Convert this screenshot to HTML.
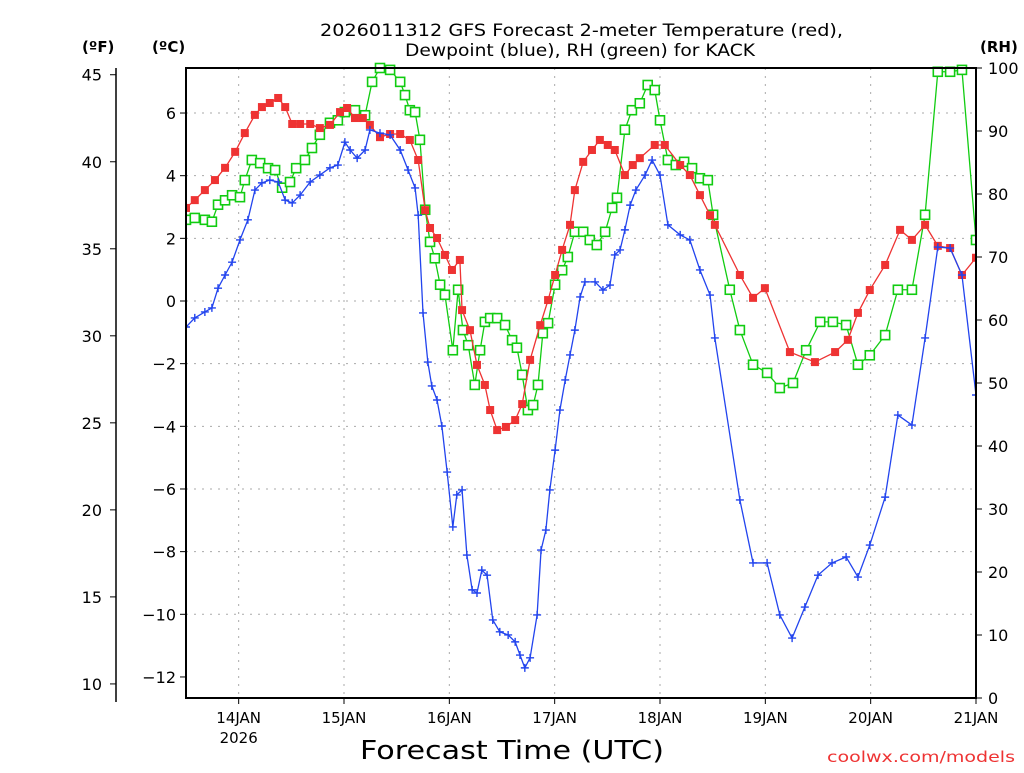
<!DOCTYPE html>
<html><head><meta charset="utf-8"><style>
body{margin:0;background:#fff;width:1024px;height:768px;overflow:hidden}
svg text{font-family:"DejaVu Sans","Liberation Sans",sans-serif;fill:#000}
</style></head><body>
<svg id="c" width="1024" height="768" xmlns="http://www.w3.org/2000/svg"></svg>
<script>
const tempHours=[0,2,4.3,6.6,8.9,11.2,13.4,15.7,17.3,19.1,21,22.6,24.2,26,28.3,30.5,32.8,35.1,36.7,38.5,40.3,41.9,44.2,46.5,48.8,51,52.9,54.5,55.6,57.2,59,60.6,62.4,62.9,64.7,66.3,68.1,69.3,70.9,72.9,75,76.6,78.4,80.7,82.5,84.1,85.7,87.5,88.6,90.5,92.5,94.3,96.1,97.7,100,101.8,103.4,106.8,109.1,112.6,114.8,117.1,119.4,120.5,126.2,129.2,131.9,137.6,143.3,147.9,150.8,153.1,155.8,159.3,162.7,165.4,168.4,171.3,174.1,176.8,180];
const tempC=[2.97,3.22,3.54,3.86,4.25,4.76,5.36,5.94,6.19,6.32,6.48,6.19,5.65,5.65,5.65,5.52,5.62,6.03,6.16,5.84,5.84,5.62,5.23,5.33,5.33,5.14,4.5,2.9,2.33,2.01,1.47,0.99,1.31,-0.29,-0.93,-2.04,-2.68,-3.48,-4.12,-4.02,-3.8,-3.29,-1.88,-0.77,0.03,0.83,1.63,2.43,3.54,4.44,4.82,5.14,4.98,4.82,4.02,4.34,4.56,4.98,4.98,4.34,4.02,3.38,2.74,2.43,0.83,0.1,0.41,-1.63,-1.95,-1.63,-1.24,-0.38,0.35,1.15,2.27,1.95,2.43,1.76,1.69,0.83,1.38];
const dewHours=[0,2,4.3,5.9,7.3,8.9,10.5,12.3,14.1,15.7,17.3,19.1,21,22.6,24.2,26,28.3,30.5,32.8,34.6,36.2,37.4,39,40.8,41.9,44.2,46.5,48.8,50.6,52.2,52.9,54,55.1,56,57.2,58.3,59.5,60.8,61.7,62.9,64,65.2,66.3,67.4,68.6,69.9,71.5,73.4,75,76.1,77.2,78.4,80,80.9,82,82.9,84.1,85.2,86.4,87.5,88.6,89.8,90.9,93.2,95,96.6,97.7,98.9,100,101.2,102.5,104.6,106.2,108,109.8,112.6,114.8,117.1,119.4,120.5,126.2,129.2,132.4,135.3,138.1,141,144,147.2,150.4,153.1,155.8,159.3,162.2,165.4,168.4,171.3,174.1,176.8,180];
const dewC=[-0.83,-0.54,-0.35,-0.22,0.41,0.83,1.24,1.95,2.59,3.54,3.77,3.86,3.8,3.22,3.13,3.38,3.8,4.02,4.25,4.34,5.07,4.82,4.56,4.82,5.46,5.36,5.3,4.82,4.18,3.61,2.74,-0.38,-1.95,-2.71,-3.16,-3.99,-5.46,-7.21,-6.19,-6.03,-8.11,-9.22,-9.32,-8.59,-8.75,-10.18,-10.56,-10.66,-10.88,-11.3,-11.71,-11.39,-10.02,-7.95,-7.31,-6.03,-4.76,-3.48,-2.52,-1.72,-0.93,0.13,0.61,0.61,0.35,0.51,1.47,1.63,2.27,3.06,3.54,4.02,4.5,4.02,2.43,2.11,1.95,0.99,0.19,-1.18,-6.35,-8.36,-8.36,-10.02,-10.76,-9.77,-8.75,-8.36,-8.17,-8.81,-7.79,-6.26,-3.64,-3.96,-1.18,1.72,1.69,0.83,-3.0];
const rhHours=[0,2,4.3,5.9,7.3,8.9,10.5,12.3,13.4,15,16.9,18.7,20.3,21.9,23.7,25.1,27.1,28.7,30.5,32.8,34.6,36.2,38.5,40.8,42.4,44.2,46.5,48.8,49.9,51,52.2,53.3,54.5,55.6,56.7,57.9,59,60.8,62,63.1,64.3,65.8,67,68.1,69.3,70.9,72.7,74.3,75.4,76.6,77.9,79.1,80.2,81.3,82.5,84.1,85.7,87,88.6,90.5,92,93.6,95.5,97.1,98.2,100,101.6,103.4,105.2,106.8,108,109.8,111.6,113.5,115.3,117.1,118.9,120.1,123.9,126.2,129.2,132.4,135.3,138.3,141.3,144.5,147.4,150.4,153.1,155.8,159.3,162.2,165.4,168.4,171.3,174.1,176.8,180];
const rhPct=[75.9,76.2,75.9,75.6,78.3,79,79.8,79.5,82.2,85.4,84.9,84.1,83.8,81,81.9,84.1,85.4,87.3,89.4,91.3,91.7,93,93.3,92.5,97.8,100,99.7,97.8,95.7,93.3,93,88.6,77.5,72.4,69.8,65.6,64,55.2,64.8,58.4,56,49.7,55.2,59.7,60.3,60.3,59.2,56.8,55.6,51.3,45.7,46.5,49.7,57.9,59.5,65.6,67.9,70,74,74,72.7,71.9,74,77.8,79.4,90.2,93.3,94.4,97.3,96.5,91.7,85.4,84.6,85.1,84.1,82.5,82.2,76.7,64.8,58.4,52.9,51.6,49.2,50,55.2,59.7,59.7,59.2,52.9,54.4,57.6,64.8,64.8,76.7,99.4,99.4,99.7,72.7];
const cTicks=[-12,-10,-8,-6,-4,-2,0,2,4,6];
const fTicks=[10,15,20,25,30,35,40,45];
const rhTicks=[0,10,20,30,40,50,60,70,80,90,100];
const dayLabels=["14JAN","15JAN","16JAN","17JAN","18JAN","19JAN","20JAN","21JAN"];
const dayHours=[12,36,60,84,108,132,156,180];

const NS="http://www.w3.org/2000/svg",svg=document.getElementById('c');
const X0=186,X1=976,Y0=68,Y1=698;
const xs=h=>X0+(X1-X0)*h/180;
const yc=c=>301-c*31.33;
const yr=r=>Y1-(Y1-Y0)*r/100;
function mk(t,a,p){const e=document.createElementNS(NS,t);for(const k in a)e.setAttribute(k,a[k]);(p||svg).appendChild(e);return e;}
function txt(s,x,y,a,p){const e=mk('text',a,p);e.setAttribute('x',x);e.setAttribute('y',y);e.textContent=s;return e;}

const clip=mk('clipPath',{id:'pc'});mk('rect',{x:X0,y:Y0-6,width:X1-X0,height:Y1-Y0+6},clip);
const grid=mk('g',{});


cTicks.forEach(c=>{if(c>-12&&c<7)mk('line',{x1:X0,x2:X1,y1:yc(c),y2:yc(c),stroke:'#aaa','stroke-dasharray':'2,6'},grid);});
dayHours.forEach(h=>{if(h<180)mk('line',{x1:xs(h),x2:xs(h),y1:Y0,y2:Y1,stroke:'#aaa','stroke-dasharray':'2,6'},grid);});

function series(hs,vs,fy,color,name,marker){
  const g=mk('g',{'clip-path':'url(#pc)'});
  
  
  mk('polyline',{points:hs.map((h,i)=>xs(h)+','+fy(vs[i])).join(' '),fill:'none',stroke:color,'stroke-width':1.3},g);
  hs.forEach((h,i)=>{const x=xs(h),y=fy(vs[i]);let m;
    if(marker==='fill')m=mk('rect',{x:x-4,y:y-4,width:8,height:8,fill:color},g);
    else if(marker==='open')m=mk('rect',{x:x-4.5,y:y-4.5,width:9,height:9,fill:'#fff',stroke:color,'stroke-width':1.6},g);
    else m=mk('path',{d:`M${x-4},${y}h8M${x},${y-4}v8`,stroke:color,'stroke-width':1.4},g);
    
    
  });
}
series(rhHours,rhPct,yr,'#11cc11','rh-series','open');
series(tempHours,tempC,yc,'#ee3333','temperature-series','fill');
series(dewHours,dewC,yc,'#2244ee','dewpoint-series','plus');

const frame=mk('rect',{x:X0,y:Y0,width:X1-X0,height:Y1-Y0,fill:'none',stroke:'#000','stroke-width':2});


cTicks.forEach(c=>{mk('line',{x1:X0-6,x2:X0,y1:yc(c),y2:yc(c),stroke:'#000'});
  const t=txt(c<0?'\u2212'+(-c):String(c),176,yc(c)+6,{'text-anchor':'end','font-size':16});
  
  });
mk('line',{x1:116,x2:116,y1:Y0,y2:702,stroke:'#000','stroke-width':1.5});
fTicks.forEach(f=>{const y=yc((f-32)/1.8);mk('line',{x1:110,x2:116,y1:y,y2:y,stroke:'#000'});
  const t=txt(String(f),102,y+6,{'text-anchor':'end','font-size':16});
  
  });
rhTicks.forEach(r=>{mk('line',{x1:X1,x2:X1+6,y1:yr(r),y2:yr(r),stroke:'#000'});
  const t=txt(String(r),988,yr(r)+6,{'font-size':16});
  
  });
dayHours.forEach((h,i)=>{mk('line',{x1:xs(h),x2:xs(h),y1:Y1,y2:Y1+6,stroke:'#000'});
  const t=txt(dayLabels[i],xs(h),723,{'text-anchor':'middle','font-size':15});
  
  });
const yr2=txt('2026',xs(12),743,{'text-anchor':'middle','font-size':15});


const labs=[['(ºF)',82,52,'fahrenheit-axis-title'],['(ºC)',152,52,'celsius-axis-title'],['(RH)',980,52,'rh-axis-title']];
labs.forEach(l=>{const t=txt(l[0],l[1],l[2],{'font-size':15,'font-weight':'bold'});
  
  });
const t1=txt('2026011312 GFS Forecast 2-meter Temperature (red),',320,36,{'font-size':17,'textLength':523,'lengthAdjust':'spacingAndGlyphs'});


const t2=txt('Dewpoint (blue), RH (green) for KACK',405,56,{'font-size':17,'textLength':350,'lengthAdjust':'spacingAndGlyphs'});


const xt=txt('Forecast Time (UTC)',360,759,{'font-size':26,'textLength':304,'lengthAdjust':'spacingAndGlyphs'});


const cr=txt('coolwx.com/models',827,762,{'font-size':15,style:'fill:#ee3333','textLength':188,'lengthAdjust':'spacingAndGlyphs'});


</script>
</body></html>
